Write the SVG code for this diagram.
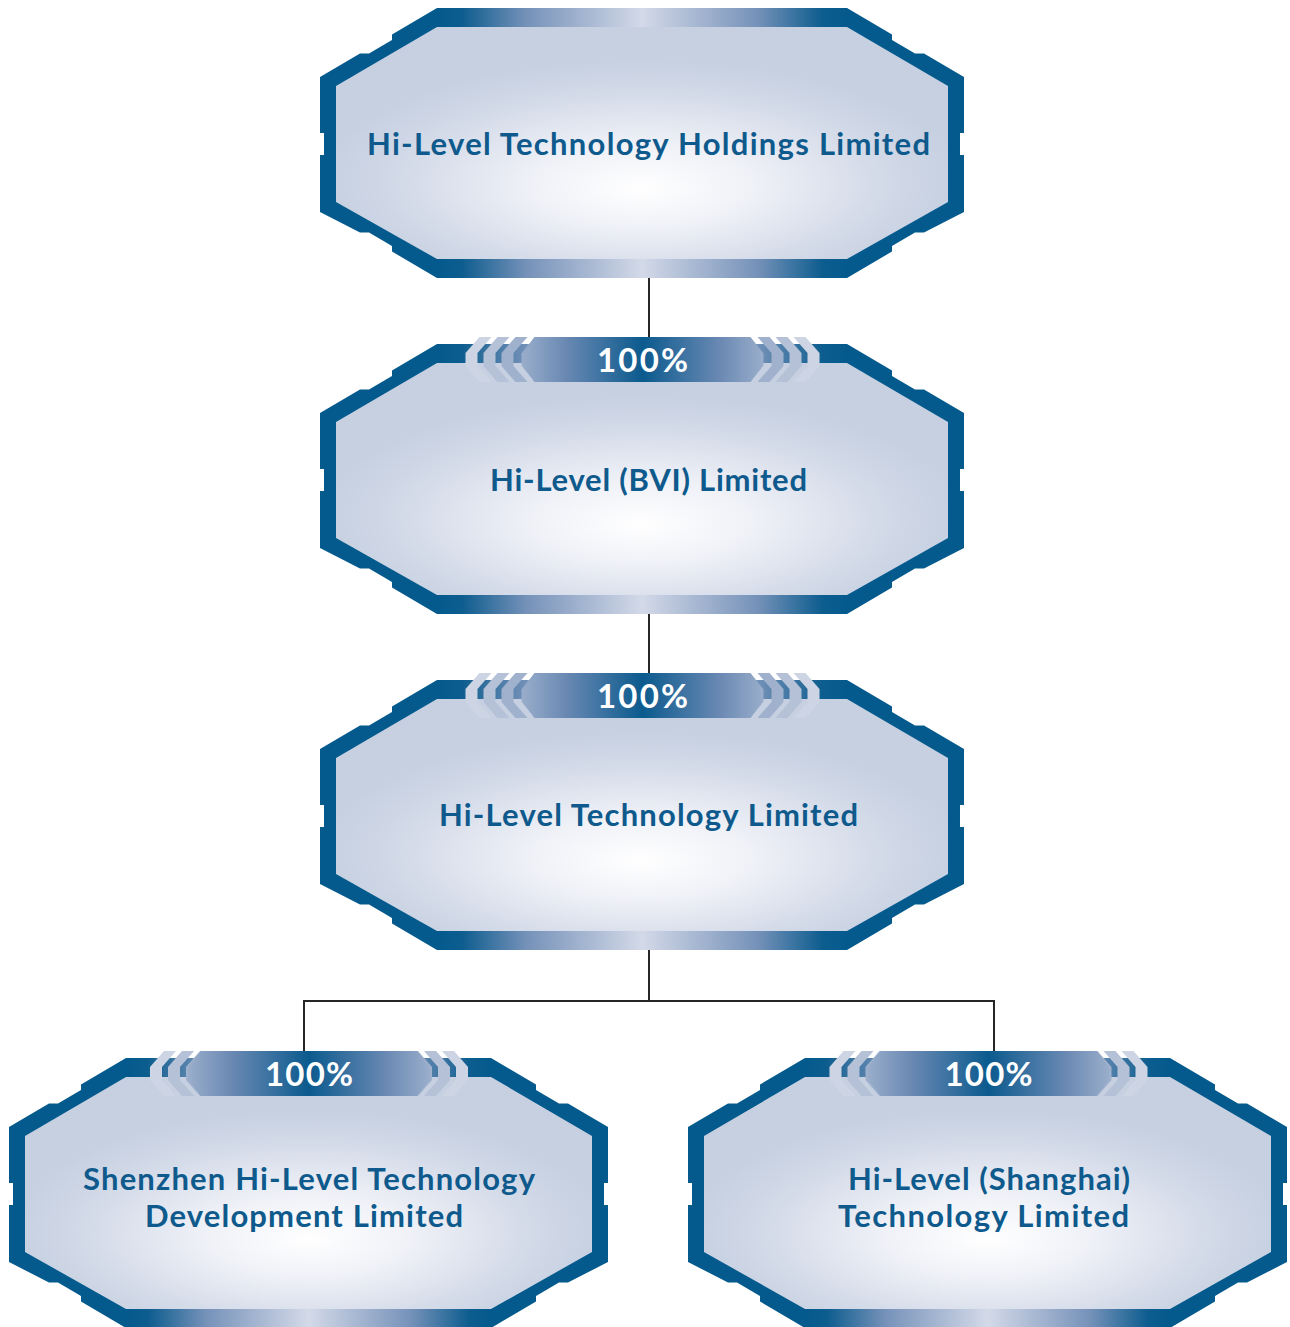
<svg xmlns="http://www.w3.org/2000/svg" xmlns:xlink="http://www.w3.org/1999/xlink" width="1290" height="1327" viewBox="0 0 1290 1327">
  <style>
    .frame { fill: #045a8d; }
    .inner { fill: url(#innerGlow); }
    .band { fill: url(#bandShade); }
    .name { font-family: Lato, "Open Sans", "Liberation Sans", sans-serif; font-weight: 700; font-size: 31px; fill: #0f5a8c; text-anchor: middle; }
    .pct { font-family: Lato, "Open Sans", "Liberation Sans", sans-serif; font-weight: 700; font-size: 33px; fill: #ffffff; text-anchor: middle; }
    .link { stroke: #262626; stroke-width: 2; fill: none; }
    .chev1 { fill: #cdd5e4; }
    .chev2 { fill: #b4c1d7; }
    .chev3 { fill: #9fb1cd; }
    .tab { fill: url(#tabShade); }
  </style>
  <defs>
    <radialGradient id="innerGlow" cx="0.5" cy="0.66" r="0.52" fx="0.5" fy="0.7">
      <stop offset="0" stop-color="#ffffff"/>
      <stop offset="0.35" stop-color="#eff1f7"/>
      <stop offset="0.75" stop-color="#d3dae8"/>
      <stop offset="1" stop-color="#c6d0e1"/>
    </radialGradient>
    <linearGradient id="bandShade" x1="0" y1="0" x2="1" y2="0">
      <stop offset="0" stop-color="#045a8d"/>
      <stop offset="0.06" stop-color="#0d5d8f"/>
      <stop offset="0.22" stop-color="#7692b9"/>
      <stop offset="0.5" stop-color="#d3d9e8"/>
      <stop offset="0.78" stop-color="#7692b9"/>
      <stop offset="0.94" stop-color="#0d5d8f"/>
      <stop offset="1" stop-color="#045a8d"/>
    </linearGradient>
    <linearGradient id="tabShade" x1="0" y1="0" x2="1" y2="0">
      <stop offset="0" stop-color="#9aaecb"/>
      <stop offset="0.18" stop-color="#6a89b3"/>
      <stop offset="0.5" stop-color="#0b5a8e"/>
      <stop offset="0.82" stop-color="#6a89b3"/>
      <stop offset="1" stop-color="#9aaecb"/>
    </linearGradient>

    <!-- octagonal frame, 644 wide -->
    <g id="frameWide">
      <path class="frame" d="M117,0 H527 L572,26.5 V32 L595,45.5 H604 L644,69 V125 H640 V147 H644 V204 L604,224.5 H595 L572,238 V243.5 L527,270 H117 L72,243.5 V238 L49,224.5 H40 L0,204 V147 H4 V125 H0 V69 L40,45.5 H49 L72,32 V26.5 Z"/>
      <path class="inner" d="M117,19 H527 L628,78 V194 L527,251 H117 L16,194 V78 Z"/>
      <rect class="band" x="117" y="0" width="410" height="19"/>
      <rect class="band" x="117" y="251" width="410" height="19"/>
    </g>

    <!-- octagonal frame, 599 wide -->
    <g id="frameNarrow">
      <path class="frame" d="M117,0 H482 L527,26.5 V32 L550,45.5 H559 L599,69 V125 H595 V147 H599 V204 L559,224.5 H550 L527,238 V243.5 L482,270 H117 L72,243.5 V238 L49,224.5 H40 L0,204 V147 H4 V125 H0 V69 L40,45.5 H49 L72,32 V26.5 Z"/>
      <path class="inner" d="M117,19 H482 L583,78 V194 L482,251 H117 L16,194 V78 Z"/>
      <rect class="band" x="117" y="0" width="365" height="19"/>
      <rect class="band" x="117" y="251" width="365" height="19"/>
    </g>

    <!-- single chevron, tip at origin -->
    <path id="chevL" d="M14,-22.5 H26 L12,-6.5 V6.5 L26,22.5 H14 L0,6.5 V-6.5 Z"/>
    <path id="chevR" d="M-14,-22.5 H-26 L-12,-6.5 V6.5 L-26,22.5 H-14 L0,6.5 V-6.5 Z"/>
    <path id="tabBody" d="M-108,-22.5 H108 L121,-6 V6 L108,22.5 H-108 L-121,6 V-6 Z"/>

    <!-- ownership tab, wide variant (centred at origin) -->
    <g id="tabWide">
      <use xlink:href="#chevL" x="-177" class="chev1"/>
      <use xlink:href="#chevL" x="-159" class="chev2"/>
      <use xlink:href="#chevL" x="-141" class="chev3"/>
      <use xlink:href="#chevR" x="177" class="chev1"/>
      <use xlink:href="#chevR" x="159" class="chev2"/>
      <use xlink:href="#chevR" x="141" class="chev3"/>
      <use xlink:href="#tabBody" class="tab"/>
    </g>
    <!-- ownership tab, narrow variant -->
    <g id="tabNarrow">
      <use xlink:href="#chevL" x="-159" class="chev1"/>
      <use xlink:href="#chevL" x="-141" class="chev2"/>
      <use xlink:href="#chevL" x="-123" class="chev3"/>
      <use xlink:href="#chevR" x="159" class="chev1"/>
      <use xlink:href="#chevR" x="141" class="chev2"/>
      <use xlink:href="#chevR" x="123" class="chev3"/>
      <use xlink:href="#tabBody" class="tab"/>
    </g>
  </defs>

  <rect width="1290" height="1327" fill="#ffffff"/>

  <!-- ownership links -->
  <g id="connectors">
    <line class="link" x1="649" y1="276" x2="649" y2="346"/>
    <line class="link" x1="649" y1="611" x2="649" y2="682"/>
    <polyline class="link" points="649,947 649,1001"/>
    <polyline class="link" points="304,1060 304,1001 994,1001 994,1060"/>
  </g>

  <g id="node-holdings">
    <use xlink:href="#frameWide" x="320" y="8"/>
    <text class="name" x="648.5" y="155" textLength="563">Hi-Level Technology Holdings Limited</text>
  </g>

  <g id="node-bvi">
    <use xlink:href="#frameWide" x="320" y="344"/>
    <use xlink:href="#tabWide" transform="translate(642.5,359.5)"/>
    <text class="pct" x="642.5" y="372" textLength="91">100%</text>
    <text class="name" x="648.5" y="491" textLength="317">Hi-Level (BVI) Limited</text>
  </g>

  <g id="node-technology">
    <use xlink:href="#frameWide" x="320" y="680"/>
    <use xlink:href="#tabWide" transform="translate(642.5,695.5)"/>
    <text class="pct" x="642.5" y="708" textLength="91">100%</text>
    <text class="name" x="648.5" y="826" textLength="419">Hi-Level Technology Limited</text>
  </g>

  <g id="node-shenzhen">
    <use xlink:href="#frameNarrow" x="9" y="1058"/>
    <use xlink:href="#tabNarrow" transform="translate(309,1073.5)"/>
    <text class="pct" x="309" y="1086" textLength="88">100%</text>
    <text class="name" x="309" y="1190" textLength="452">Shenzhen Hi-Level Technology</text>
    <text class="name" x="304" y="1227" textLength="318">Development Limited</text>
  </g>

  <g id="node-shanghai">
    <use xlink:href="#frameNarrow" x="688" y="1058"/>
    <use xlink:href="#tabNarrow" transform="translate(988.5,1073.5)"/>
    <text class="pct" x="988.5" y="1086" textLength="88">100%</text>
    <text class="name" x="989" y="1190" textLength="282">Hi-Level (Shanghai)</text>
    <text class="name" x="983.5" y="1227" textLength="291">Technology Limited</text>
  </g>
</svg>
